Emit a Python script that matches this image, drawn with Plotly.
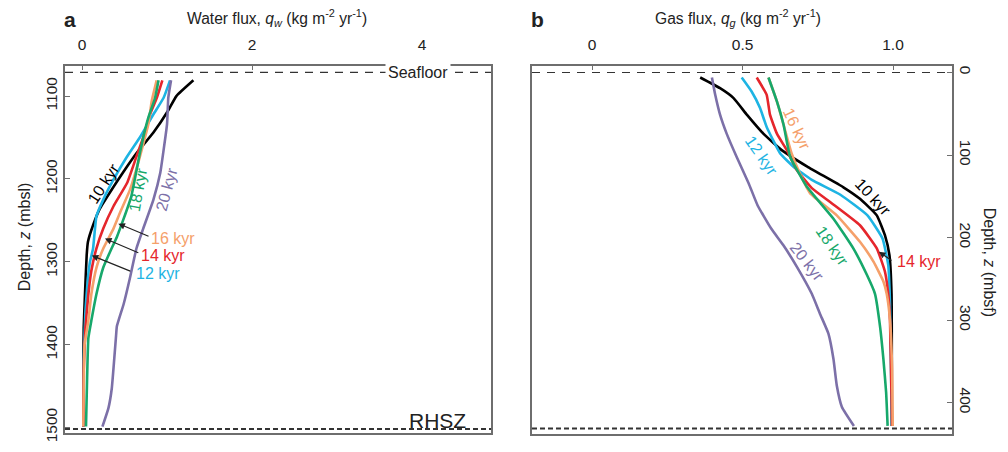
import plotly.graph_objects as go

# ---------------- data ----------------
# Panel a: water flux q_w (kg m-2 yr-1) vs depth (mbsl)
wa_10_q = [1.31, 1.11, 1.01, 0.84, 0.64, 0.53, 0.40, 0.21, 0.13, 0.07, 0.055, 0.035, 0.02, 0.015, 0.015]
wa_10_z = [1081, 1100, 1118, 1144, 1169, 1185, 1205, 1236, 1256, 1276, 1292, 1339, 1380, 1440, 1499]
wa_12_q = [1.035, 0.96, 0.84, 0.68, 0.53, 0.37, 0.25, 0.17, 0.13, 0.094, 0.07, 0.04, 0.02, 0.015]
wa_12_z = [1081, 1102, 1122, 1150, 1173, 1201, 1225, 1245, 1284, 1300, 1319, 1360, 1420, 1499]
wa_14_q = [0.945, 0.88, 0.80, 0.72, 0.64, 0.53, 0.37, 0.25, 0.17, 0.11, 0.075, 0.04, 0.02, 0.015]
wa_14_z = [1081, 1102, 1122, 1150, 1173, 1205, 1233, 1260, 1284, 1311, 1339, 1380, 1430, 1499]
wa_16_q = [0.878, 0.82, 0.78, 0.72, 0.66, 0.565, 0.45, 0.37, 0.25, 0.17, 0.11, 0.075, 0.03, 0.02, 0.015]
wa_16_z = [1081, 1106, 1134, 1158, 1181, 1213, 1240, 1260, 1284, 1307, 1339, 1371, 1400, 1450, 1499]
wa_18_q = [0.90, 0.86, 0.78, 0.72, 0.68, 0.58, 0.49, 0.41, 0.33, 0.25, 0.17, 0.11, 0.075, 0.06, 0.047]
wa_18_z = [1081, 1102, 1126, 1150, 1169, 1221, 1248, 1270, 1288, 1307, 1339, 1371, 1392, 1440, 1499]
wa_20_q = [1.047, 1.015, 1.0, 0.96, 0.92, 0.84, 0.72, 0.64, 0.565, 0.49, 0.41, 0.40, 0.35, 0.31, 0.24]
wa_20_z = [1081, 1102, 1134, 1165, 1193, 1225, 1260, 1284, 1319, 1351, 1378, 1390, 1453, 1477, 1499]

# Panel b: gas flux q_g (kg m-2 yr-1) vs depth (mbsf)
gb_10_q = [0.359, 0.425, 0.47, 0.514, 0.569, 0.63, 0.715, 0.835, 0.89, 0.946, 0.973, 0.988, 0.995, 0.996]
gb_10_z = [6, 19, 31, 51, 74, 94, 114, 139, 153, 173, 197, 221, 268, 428]
gb_12_q = [0.497, 0.53, 0.558, 0.58, 0.625, 0.669, 0.73, 0.825, 0.915, 0.965, 0.984, 0.99, 0.996]
gb_12_z = [6, 23, 43, 66, 98, 114, 130, 148, 173, 201, 233, 280, 428]
gb_14_q = [0.547, 0.58, 0.591, 0.614, 0.647, 0.68, 0.73, 0.795, 0.89, 0.946, 0.973, 0.984, 0.99, 0.997]
gb_14_z = [6, 27, 51, 74, 94, 118, 140, 158, 185, 213, 241, 268, 300, 428]
gb_16_q = [0.586, 0.614, 0.636, 0.663, 0.69, 0.724, 0.813, 0.89, 0.935, 0.968, 0.979, 0.99, 0.997, 0.999]
gb_16_z = [6, 35, 63, 98, 122, 146, 173, 205, 229, 253, 268, 300, 360, 428]
gb_18_q = [0.586, 0.614, 0.636, 0.658, 0.713, 0.802, 0.868, 0.913, 0.94, 0.957, 0.968, 0.977, 0.982]
gb_18_z = [6, 35, 63, 102, 138, 177, 213, 245, 268, 308, 347, 387, 428]
gb_20_q = [0.398, 0.409, 0.425, 0.447, 0.48, 0.52, 0.55, 0.595, 0.635, 0.68, 0.73, 0.757, 0.785, 0.802, 0.813, 0.83, 0.87]
gb_20_z = [6, 27, 51, 74, 102, 134, 161, 189, 209, 235, 268, 292, 316, 347, 379, 405, 428]

seafloor_mbsl = 1071.5
rhsz_mbsl = 1502
seafloor_mbsf = 0
rhsz_mbsf = 431

x1_ticks = [0, 2, 4]
x1_ticktext = ["0", "2", "4"]
x2_ticks = [0, 0.5, 1.0]
x2_ticktext = ["0", "0.5", "1.0"]
y1_ticks = [1100, 1200, 1300, 1400, 1500]
y2_ticks = [0, 100, 200, 300, 400]

COL = {
    "10": "#000000",
    "12": "#1eb4e3",
    "14": "#e5262c",
    "16": "#f5a06a",
    "18": "#17a86b",
    "20": "#7c70a8",
}

FONT = "Arial, Liberation Sans, Helvetica, sans-serif"

fig = go.Figure()

order = ["10", "12", "14", "20", "16", "18"]
water = {"10": (wa_10_q, wa_10_z), "12": (wa_12_q, wa_12_z), "14": (wa_14_q, wa_14_z),
         "16": (wa_16_q, wa_16_z), "18": (wa_18_q, wa_18_z), "20": (wa_20_q, wa_20_z)}
gas = {"10": (gb_10_q, gb_10_z), "12": (gb_12_q, gb_12_z), "14": (gb_14_q, gb_14_z),
       "16": (gb_16_q, gb_16_z), "18": (gb_18_q, gb_18_z), "20": (gb_20_q, gb_20_z)}

LINE_W = 2.6
for k in order:
    q, z = water[k]
    fig.add_trace(go.Scatter(x=q, y=z, mode="lines", line=dict(color=COL[k], width=LINE_W, shape="spline", smoothing=0.4),
                             xaxis="x", yaxis="y", showlegend=False, hoverinfo="skip"))
for k in order:
    q, z = gas[k]
    fig.add_trace(go.Scatter(x=q, y=z, mode="lines", line=dict(color=COL[k], width=LINE_W, shape="spline", smoothing=0.4),
                             xaxis="x2", yaxis="y2", showlegend=False, hoverinfo="skip"))

axis_common = dict(showgrid=False, zeroline=False, showline=True, linecolor="#6e6e6e", linewidth=1.5,
                   mirror=True, ticks="inside", ticklen=5, tickcolor="#6e6e6e", tickwidth=1.2,
                   tickfont=dict(family=FONT, size=15.5, color="#222"))

fig.update_layout(
    width=1008, height=452,
    margin=dict(l=0, r=0, t=0, b=0),
    paper_bgcolor="white", plot_bgcolor="white",
    font=dict(family=FONT, color="#222"),
    xaxis=dict(domain=[65/1008, 491/1008], range=[-0.2, 4.81], side="top", anchor="y",
               tickvals=x1_ticks, ticktext=x1_ticktext, ticklabelstandoff=8, **axis_common),
    yaxis=dict(domain=[1-442/452, 1-67/452], range=[1507, 1063.3], anchor="x",
               tickvals=y1_ticks, tickangle=-90, **axis_common),
    xaxis2=dict(domain=[532/1008, 952/1008], range=[-0.2, 1.196], side="top", anchor="y2",
                tickvals=x2_ticks, ticktext=x2_ticktext, ticklabelstandoff=8, **axis_common),
    yaxis2=dict(domain=[1-443/452, 1-67/452], range=[438, -8.3], anchor="x2", side="right",
                tickvals=y2_ticks, tickangle=90, **axis_common),
)

# dashed reference lines
fig.add_shape(type="line", xref="x domain", yref="y", x0=0, x1=1, y0=seafloor_mbsl, y1=seafloor_mbsl,
              line=dict(color="#333", width=1.2, dash="8px,7px"))
fig.add_shape(type="line", xref="x domain", yref="y", x0=0, x1=1, y0=rhsz_mbsl, y1=rhsz_mbsl,
              line=dict(color="#333", width=2, dash="5px,3px"))
fig.add_shape(type="line", xref="x2 domain", yref="y2", x0=0, x1=1, y0=seafloor_mbsf, y1=seafloor_mbsf,
              line=dict(color="#333", width=1.2, dash="8px,7px"))
fig.add_shape(type="line", xref="x2 domain", yref="y2", x0=0, x1=1, y0=rhsz_mbsf, y1=rhsz_mbsf,
              line=dict(color="#333", width=2, dash="5px,3px"))

def txt(x, y, s, xref, yref, size=16, color="#222", angle=0, xanchor="center", yanchor="middle", **kw):
    fig.add_annotation(x=x, y=y, text=s, xref=xref, yref=yref, showarrow=False, textangle=angle,
                       xanchor=xanchor, yanchor=yanchor, font=dict(family=FONT, size=size, color=color), **kw)

# panel letters and titles (paper coords from pixels)
px = lambda v: v / 1008
py = lambda v: 1 - v / 452
txt(px(70), py(20), "<b>a</b>", "paper", "paper", size=21)
txt(px(537), py(20), "<b>b</b>", "paper", "paper", size=21)
txt(px(277), py(18), "Water flux, <i>q</i><sub><i>w</i></sub> (kg m<sup>-2</sup> yr<sup>-1</sup>)", "paper", "paper", size=15.6)
txt(px(738), py(18), "Gas flux, <i>q</i><sub><i>g</i></sub> (kg m<sup>-2</sup> yr<sup>-1</sup>)", "paper", "paper", size=15.6)
txt(px(24), py(242), "Depth, <i>z</i> (mbsl)", "paper", "paper", size=16, angle=-90)
txt(px(989), py(267), "Depth, <i>z</i> (mbsf)", "paper", "paper", size=16, angle=90)

# Seafloor / RHSZ labels
txt(3.95, seafloor_mbsl, "Seafloor", "x", "y", size=16, bgcolor="white", borderpad=2)
txt(4.54, 1492, "RHSZ", "x", "y", size=21, xanchor="right", yanchor="middle")

# panel a curve labels
txt(0.25, 1205, "10 kyr", "x", "y", size=16, color=COL["10"], angle=-57)
txt(0.66, 1213, "18 kyr", "x", "y", size=16, color=COL["18"], angle=-80)
txt(0.996, 1213, "20 kyr", "x", "y", size=16, color=COL["20"], angle=-75)
txt(0.785, 1271.5, "16 kyr", "x", "y", size=16, color=COL["16"], xanchor="left")
txt(0.665, 1293, "14 kyr", "x", "y", size=16, color=COL["14"], xanchor="left")
txt(0.61, 1314, "12 kyr", "x", "y", size=16, color=COL["12"], xanchor="left")

def arrow(x, y, ax, ay, xref, yref):
    fig.add_annotation(x=x, y=y, ax=ax, ay=ay, xref=xref, yref=yref, axref=xref, ayref=yref,
                       text="", showarrow=True, arrowhead=2, arrowsize=1.1, arrowwidth=1.2, arrowcolor="#222")

arrow(0.427, 1254, 0.80, 1270, "x", "y")
arrow(0.27, 1272, 0.68, 1290, "x", "y")
arrow(0.114, 1292.5, 0.585, 1312, "x", "y")

# panel b curve labels
txt(0.682, 68.5, "16 kyr", "x2", "y2", size=16, color=COL["16"], angle=65)
txt(0.563, 100, "12 kyr", "x2", "y2", size=16, color=COL["12"], angle=55)
txt(0.935, 151, "10 kyr", "x2", "y2", size=16, color=COL["10"], angle=47)
txt(0.796, 210, "18 kyr", "x2", "y2", size=16, color=COL["18"], angle=55)
txt(0.713, 229, "20 kyr", "x2", "y2", size=16, color=COL["20"], angle=52)
txt(1.007, 229, "14 kyr", "x2", "y2", size=16, color=COL["14"], xanchor="left")
arrow(0.953, 217, 1.0, 229, "x2", "y2")

fig.write_html("out.html")
